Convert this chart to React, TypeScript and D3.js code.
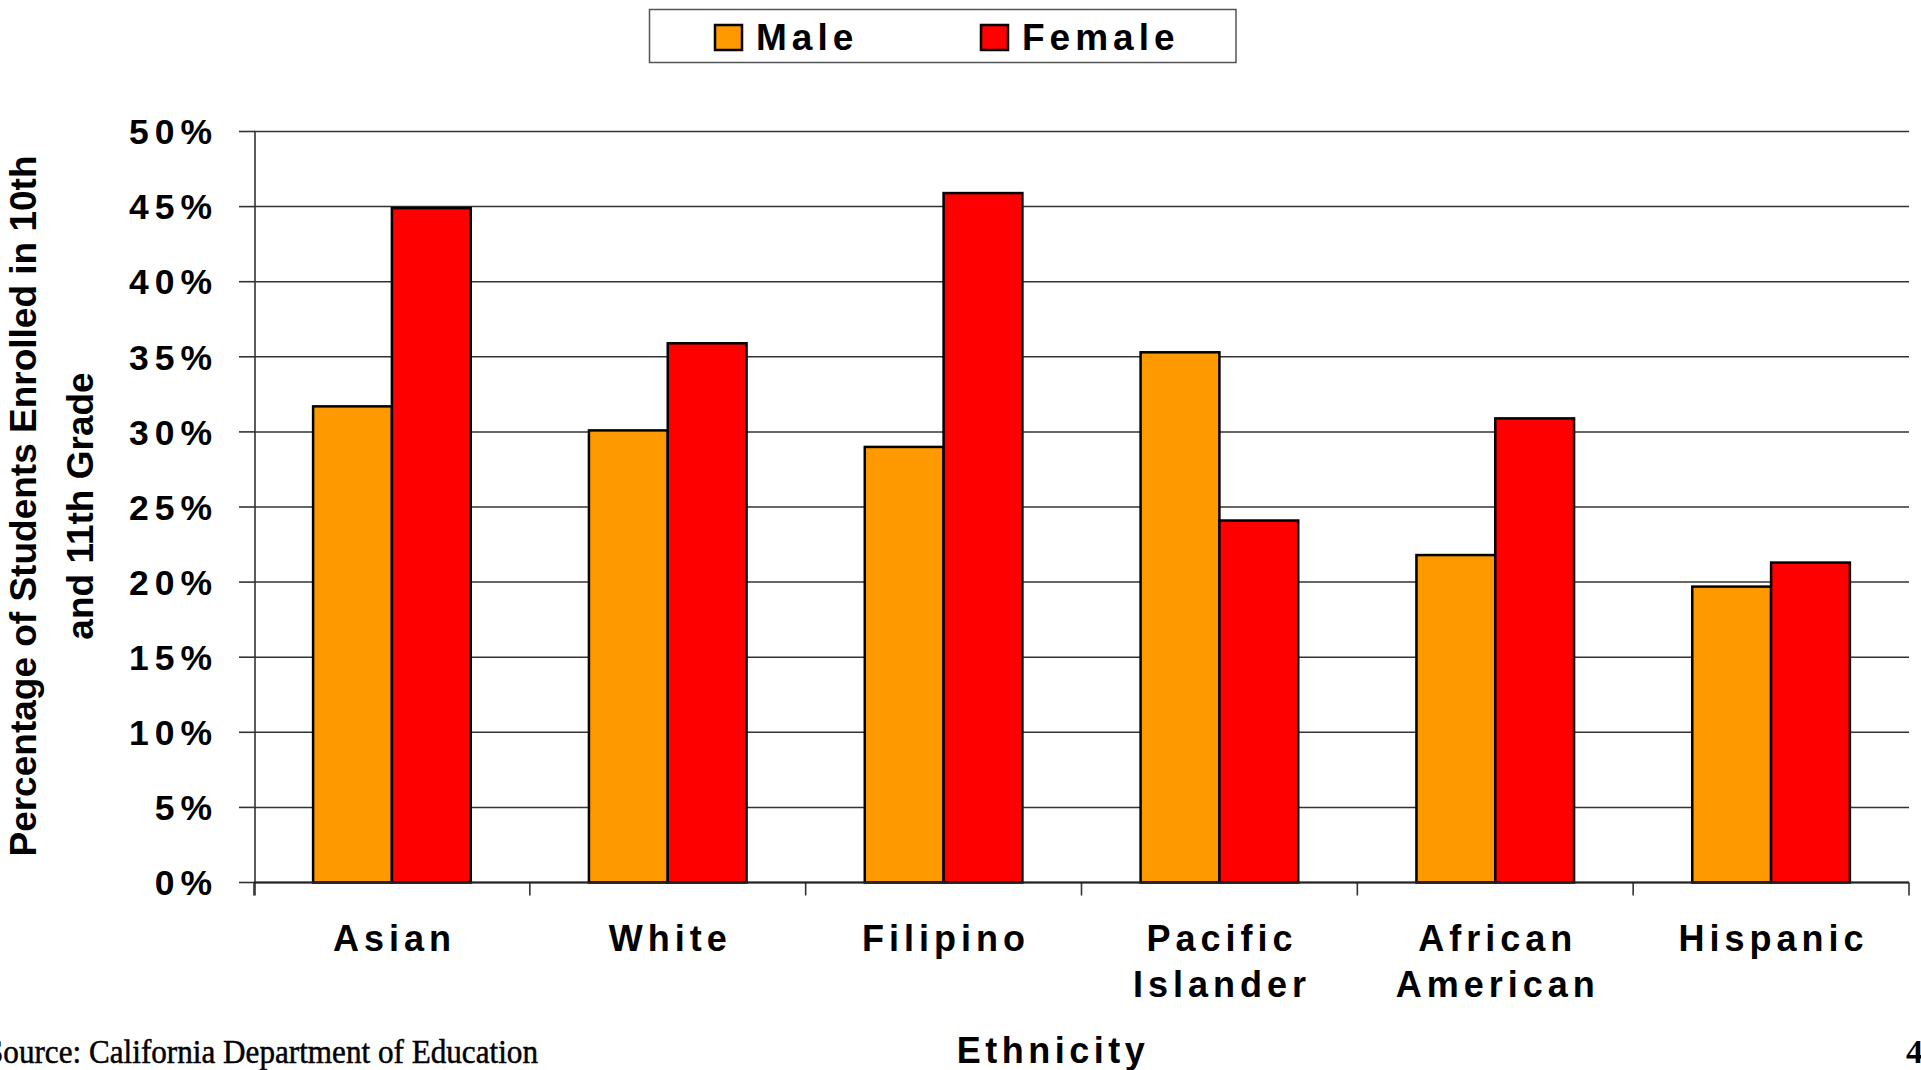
import React from "react";
import * as d3 from "d3";

const categories = ["Asian", "White", "Filipino", "Pacific Islander", "African American", "Hispanic"];
const seriesNames = ["Male", "Female"];
const maleValues = [31.7, 30.1, 29.0, 35.3, 21.8, 19.7];
const femaleValues = [44.9, 35.9, 45.9, 24.1, 30.9, 21.3];
const yTicks = [0, 5, 10, 15, 20, 25, 30, 35, 40, 45, 50];
const colors = ["#FF9900", "#FF0000"];
const yTitleLines = ["Percentage of Students Enrolled in 10th", "and 11th Grade"];
const xTitle = "Ethnicity";
const sourceText = "Source: California Department of Education";
const pageNumber = "4";

const W = 1921;
const H = 1070;
const left = 254;
const right = 1909;
const top = 131.5;
const bottom = 882.5;

export default function App() {
  const x = d3.scaleBand<string>().domain(categories).range([left, right]).paddingInner(0).paddingOuter(0);
  const xs = d3.scaleBand<string>().domain(seriesNames).range([0, x.bandwidth()]).paddingInner(0).paddingOuter(0.75);
  const y = d3.scaleLinear().domain([0, 50]).range([bottom, top]);
  const data = [maleValues, femaleValues];
  const font = "'Liberation Sans', Arial, Helvetica, sans-serif";
  const serif = "'Liberation Serif', 'Times New Roman', serif";
  const boundaries = categories.map((c) => x(c) as number).concat([right]);

  return (
    <svg width={W} height={H} style={{ position: "fixed", left: 0, top: 0, background: "#fff" }} fontFamily={font}>
      <rect x={0} y={0} width={W} height={H} fill="#fff" />
      {/* gridlines */}
      {yTicks.map((t) => (
        <line key={"g" + t} x1={left} x2={right} y1={y(t)} y2={y(t)} stroke="#333" strokeWidth={1.5} />
      ))}
      {/* y axis */}
      <line x1={left + 1} x2={left + 1} y1={top} y2={bottom + 13} stroke="#333" strokeWidth={1.6} />
      {yTicks.map((t) => (
        <line key={"t" + t} x1={left - 15} x2={left + 1} y1={y(t)} y2={y(t)} stroke="#333" strokeWidth={1.6} />
      ))}
      {yTicks.map((t) => (
        <text key={"l" + t} x={218} y={y(t)} dy="0.36em" textAnchor="end" fontSize={35.5} fontWeight="bold" style={{ letterSpacing: "6px" }}>
          {t + "%"}
        </text>
      ))}
      {/* x ticks */}
      {boundaries.map((b, i) => (
        <line key={"xt" + i} x1={b} x2={b} y1={bottom} y2={bottom + 13} stroke="#333" strokeWidth={1.6} />
      ))}
      {/* bars */}
      {categories.map((c, ci) =>
        seriesNames.map((s, si) => {
          const v = data[si][ci];
          const bx = (x(c) as number) + (xs(s) as number);
          return (
            <rect
              key={c + s}
              x={bx}
              y={y(v)}
              width={xs.bandwidth()}
              height={bottom - y(v)}
              fill={colors[si]}
              stroke="#000"
              strokeWidth={2.5}
            />
          );
        })
      )}
      {/* x axis line */}
      <line x1={left} x2={right} y1={bottom} y2={bottom} stroke="#222" strokeWidth={1.8} />
      {/* category labels */}
      {categories.map((c) => {
        const parts = c.split(" ");
        const cx = (x(c) as number) + x.bandwidth() / 2 + 2.5;
        return (
          <text key={"c" + c} x={cx} y={951} textAnchor="middle" fontSize={36} fontWeight="bold" style={{ letterSpacing: "5px" }}>
            {parts.map((p, i) => (
              <tspan key={i} x={cx} dy={i === 0 ? 0 : 46}>
                {p}
              </tspan>
            ))}
          </text>
        );
      })}
      {/* x title */}
      <text x={1053} y={1063} textAnchor="middle" fontSize={36} fontWeight="bold" style={{ letterSpacing: "4.5px" }}>
        {xTitle}
      </text>
      {/* y title */}
      <g transform="translate(36,506) rotate(-90)">
        <text x={0} y={0} textAnchor="middle" fontSize={37} fontWeight="bold">
          {yTitleLines[0]}
        </text>
      </g>
      <g transform="translate(93,506) rotate(-90)">
        <text x={0} y={0} textAnchor="middle" fontSize={37} fontWeight="bold">
          {yTitleLines[1]}
        </text>
      </g>
      {/* legend */}
      <rect x={649.5} y={9.5} width={586.5} height={53} fill="#fff" stroke="#555" strokeWidth={1.5} />
      {seriesNames.map((s, i) => {
        const sx = i === 0 ? 715 : 981;
        return (
          <g key={"lg" + s}>
            <rect x={sx} y={25} width={27} height={25} fill={colors[i]} stroke="#000" strokeWidth={2.5} />
            <text x={sx + 41} y={49.5} fontSize={37} fontWeight="bold" style={{ letterSpacing: "5px" }}>
              {s}
            </text>
          </g>
        );
      })}
      {/* source */}
      <text x={-14} y={1063} fontFamily={serif} fontSize={34} textLength={552} lengthAdjust="spacingAndGlyphs" stroke="#000" strokeWidth={0.5}>
        {sourceText}
      </text>
      <text x={1906} y={1063} fontFamily={serif} fontSize={34} fontWeight="bold">
        {pageNumber}
      </text>
    </svg>
  );
}
